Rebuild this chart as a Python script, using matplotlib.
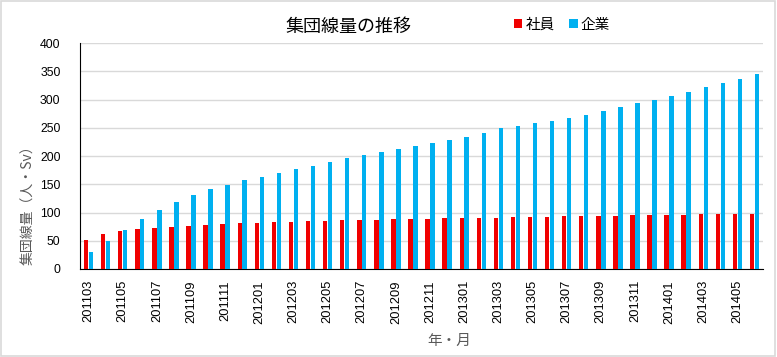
import numpy as np
import matplotlib
matplotlib.use('Agg')
import matplotlib.pyplot as plt
from matplotlib.patches import Rectangle

# Monthly collective dose data, 2011/03 - 2014/06
months = [f"{y}{m:02d}" for y, m in
          [(2011, m) for m in range(3, 13)] +
          [(2012, m) for m in range(1, 13)] +
          [(2013, m) for m in range(1, 13)] +
          [(2014, m) for m in range(1, 7)]]

employee = [51, 62, 67, 71, 73, 74, 76, 78, 80, 81,
            81, 83, 83, 85, 85, 87, 87, 87, 88, 88,
            88, 90, 90, 90, 90, 92, 92, 92, 94, 94,
            94, 94, 95, 95, 95, 95, 97, 97, 97, 97]
contractor = [30, 50, 69, 88, 104, 118, 131, 141, 149, 157,
              163, 170, 177, 182, 189, 196, 202, 207, 212, 217,
              223, 228, 233, 240, 249, 253, 258, 262, 267, 272,
              279, 286, 293, 300, 307, 313, 322, 329, 336, 345]

series_names = ['社員', '企業']
colors = ['#F00000', '#00B0F0']

plt.rcParams['font.family'] = ['Liberation Sans', 'Noto Sans CJK JP', 'DejaVu Sans']
jp = ['Noto Sans CJK JP', 'DejaVu Sans']

fig = plt.figure(figsize=(7.77, 3.57), dpi=100)
ax = fig.add_axes([0.103, 0.2465, 0.879, 0.633])

x = np.arange(len(months))
w = 0.26
b1 = ax.bar(x - 0.145, employee, width=w, color=colors[0], zorder=3)
b2 = ax.bar(x + 0.145, contractor, width=w, color=colors[1], zorder=3)

ax.set_xlim(-0.5, len(months) - 0.5)
ax.set_ylim(0, 400)
ax.set_yticks(range(0, 401, 50))
ax.yaxis.grid(True, color='#D9D9D9', linewidth=1.0, zorder=0)
ax.set_axisbelow(True)

ax.set_xticks(x[::2])
ax.set_xticklabels(months[::2], rotation=90, fontsize=9.3)
ax.tick_params(axis='x', length=0, pad=8)
ax.tick_params(axis='y', length=0, labelsize=8.8, pad=14)

for s in ['top', 'right']:
    ax.spines[s].set_visible(False)
ax.spines['left'].set_color('black')
ax.spines['bottom'].set_color('black')

# title and legend sit on one line at the top
fig.text(0.448, 0.925, '集団線量の推移', family=jp, fontsize=13,
         ha='center', va='center')
leg = fig.legend([b1, b2], series_names, loc='center', bbox_to_anchor=(0.723, 0.93),
                 ncol=2, frameon=False, prop={'family': jp, 'size': 10.5},
                 handlelength=0.6, handleheight=0.6, handletextpad=0.2,
                 columnspacing=1.0)

fig.text(0.036, 0.434, '集団線量（人・Sv）', family=jp, fontsize=10,
         color='#595959', rotation=90, ha='center', va='center')
fig.text(0.578, 0.045, '年・月', family=jp, fontsize=10.5,
         color='#595959', ha='center', va='center')

fig.patches.append(Rectangle((0.001, 0.002), 0.997, 0.995, transform=fig.transFigure,
                             fill=False, edgecolor='#D9D9D9', linewidth=1.2))

fig.savefig('out.png', dpi=100)
